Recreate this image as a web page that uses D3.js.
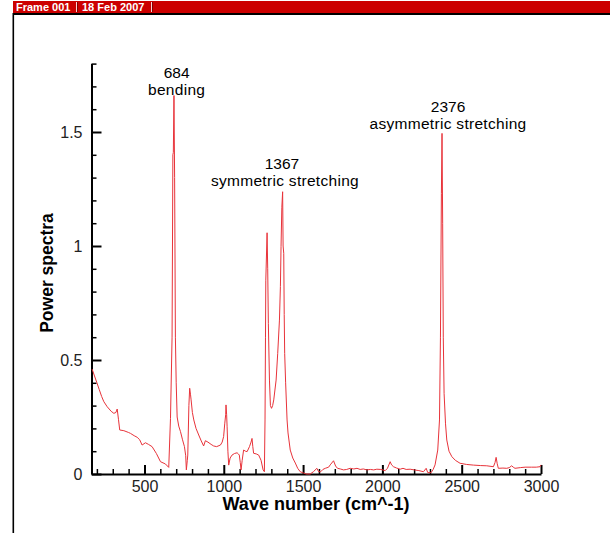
<!DOCTYPE html>
<html>
<head>
  <meta charset="utf-8">
  <script src="https://d3js.org/d3.v7.min.js"></script>
  <style>
    body { margin: 0; background: #fff; }
    svg { display: block; font-family: "Liberation Sans", Arial, sans-serif; }
    .tick text { font-size: 16px; fill: #222; }
    .axis-title { font-size: 18px; font-weight: 700; fill: #000; }
    .peak-label { font-size: 15.5px; fill: #000; text-anchor: middle; }
  </style>
</head>
<body>
  <svg id="chart" width="610" height="533"></svg>
  <script>
    // wave number (cm^-1) and power spectra
    const waveNumber = [
      170, 185, 200, 215, 230, 244, 265, 290, 307, 320, 328, 336, 344, 370, 400, 412, 435, 454, 470, 485,
      506, 525, 548, 575, 601, 632, 653, 664, 674, 679, 682, 686, 690, 695, 700, 706, 716, 727, 740, 752,
      760, 764, 770, 773, 780, 785, 790, 794, 802, 811, 825, 842, 858, 873, 884, 900, 920, 936, 955, 979,
      990, 999, 1006, 1012, 1014, 1018, 1021, 1026, 1031, 1040, 1052, 1068, 1084, 1092, 1098, 1104, 1109, 1116, 1125, 1137,
      1147, 1162, 1172, 1178, 1183, 1188, 1205, 1220, 1235, 1248, 1256, 1260, 1263, 1265, 1273, 1277, 1281, 1288, 1294, 1301,
      1308, 1315, 1330, 1340, 1351, 1357, 1361, 1366, 1371, 1374, 1378, 1381, 1384, 1390, 1399, 1405, 1419, 1435, 1451, 1466,
      1482, 1500, 1520, 1545, 1565, 1587, 1598, 1611, 1625, 1640, 1661, 1671, 1692, 1705, 1717, 1735, 1755, 1775, 1797, 1820,
      1840, 1860, 1880, 1902, 1925, 1945, 1965, 1990, 2018, 2032, 2049, 2058, 2070, 2090, 2112, 2130, 2150, 2175, 2200, 2230,
      2259, 2276, 2286, 2307, 2320, 2332, 2349, 2360, 2366, 2372, 2376, 2380, 2384, 2389, 2398, 2406, 2420, 2438, 2460, 2490,
      2530, 2574, 2620, 2658, 2700, 2710, 2717, 2724, 2731, 2760, 2784, 2800, 2815, 2825, 2836, 2870, 2900, 2940, 2970, 2994,
      3000
    ];
    const power = [
      0.46, 0.43, 0.40, 0.37, 0.34, 0.317, 0.295, 0.275, 0.266, 0.27, 0.285, 0.24, 0.193, 0.19, 0.182, 0.178, 0.168, 0.161, 0.15, 0.127,
      0.137, 0.13, 0.12, 0.09, 0.054, 0.044, 0.029, 0.244, 0.6, 1.40, 1.41, 1.66, 1.30, 0.6, 0.40, 0.25, 0.21, 0.186, 0.15, 0.12,
      0.08, 0.018, 0.06, 0.083, 0.30, 0.376, 0.35, 0.325, 0.27, 0.237, 0.20, 0.171, 0.145, 0.123, 0.146, 0.14, 0.13, 0.123, 0.12, 0.127,
      0.14, 0.164, 0.22, 0.26, 0.303, 0.26, 0.207, 0.10, 0.039, 0.07, 0.083, 0.09, 0.093, 0.088, 0.083, 0.05, 0.018, 0.06, 0.105, 0.10,
      0.098, 0.12, 0.14, 0.156, 0.12, 0.091, 0.088, 0.083, 0.06, 0.018, 0.01, 0.237, 0.60, 0.85, 1.058, 0.90, 0.661, 0.412, 0.30, 0.288,
      0.30, 0.325, 0.412, 0.529, 0.675, 0.822, 0.997, 1.17, 1.238, 1.0, 0.968, 0.70, 0.529, 0.40, 0.237, 0.18, 0.105, 0.07, 0.048, 0.025,
      0.01, 0.005, 0.0, 0.0, 0.01, 0.025, 0.01, 0.01, 0.02, 0.025, 0.03, 0.04, 0.058, 0.035, 0.025, 0.022, 0.018, 0.02, 0.025, 0.022,
      0.025, 0.02, 0.022, 0.018, 0.02, 0.018, 0.021, 0.02, 0.015, 0.025, 0.054, 0.04, 0.032, 0.026, 0.021, 0.025, 0.02, 0.021, 0.018, 0.015,
      0.01, 0.025, 0.006, 0.006, 0.02, 0.04, 0.105, 0.237, 0.60, 1.231, 1.494, 1.10, 0.60, 0.354, 0.22, 0.149, 0.10, 0.076, 0.06, 0.047,
      0.042, 0.039, 0.037, 0.036, 0.032, 0.05, 0.073, 0.045, 0.025, 0.026, 0.025, 0.028, 0.036, 0.03, 0.025, 0.028, 0.03, 0.03, 0.03, 0.032,
      0.04
    ];

    // peak annotations
    const peakWave = [684, 1367, 2376];
    const peakName = ["bending", "symmetric stretching", "asymmetric stretching"];

    const xMajorTicks = [500, 1000, 1500, 2000, 2500, 3000];
    const yMajorTicks = [0, 0.5, 1, 1.5];

    const headerTexts = ["Frame 001", "18 Feb 2007"];

    const svg = d3.select("#chart");

    // frame header bar
    svg.append("rect").attr("x", 13).attr("y", 1).attr("width", 597).attr("height", 12).attr("fill", "#cc0000");
    svg.append("rect").attr("x", 13).attr("y", 13).attr("width", 597).attr("height", 2).attr("fill", "#000");
    svg.append("rect").attr("x", 12.5).attr("y", 13).attr("width", 1.6).attr("height", 520).attr("fill", "#000");

    const headerX = [16, 82];
    headerTexts.forEach((t, i) => {
      svg.append("text")
        .attr("x", headerX[i]).attr("y", 11)
        .attr("fill", "#fff")
        .style("font-size", "11px").style("font-weight", 700)
        .text(t);
    });
    [76.5, 151.5].forEach(sx => {
      svg.append("line").attr("x1", sx).attr("x2", sx).attr("y1", 2).attr("y2", 12)
        .attr("stroke", "#ffd0d0").attr("stroke-width", 1);
      svg.append("line").attr("x1", sx + 1).attr("x2", sx + 1).attr("y1", 2).attr("y2", 12)
        .attr("stroke", "#800000").attr("stroke-width", 1);
    });

    // scales
    const x = d3.scaleLinear().domain([166, 3000]).range([91.5, 541]);
    const y = d3.scaleLinear().domain([0, 1.8]).range([474, 63.6]);

    const plot = svg.append("g");

    // minor ticks
    const xMinor = d3.range(200, 3001, 100).filter(v => !xMajorTicks.includes(v));
    const yMinor = d3.range(1, 19).map(v => v / 10).filter(v => !yMajorTicks.includes(v));

    plot.append("g")
      .attr("transform", "translate(0,474)")
      .call(d3.axisBottom(x).tickValues(xMinor).tickSize(-5).tickFormat(""))
      .call(g => g.select(".domain").remove())
      .call(g => g.selectAll("line").attr("stroke-width", 1.5));

    plot.append("g")
      .attr("transform", "translate(91.5,0)")
      .call(d3.axisLeft(y).tickValues(yMinor).tickSize(-5).tickFormat(""))
      .call(g => g.select(".domain").remove())
      .call(g => g.selectAll("line").attr("stroke-width", 1.5));

    // major axes
    plot.append("g")
      .attr("transform", "translate(0,474)")
      .call(d3.axisBottom(x).tickValues(xMajorTicks).tickSize(-9).tickSizeOuter(0).tickPadding(7).tickFormat(d => d))
      .call(g => g.select(".domain").attr("stroke-width", 2))
      .call(g => g.selectAll("line").attr("stroke-width", 2))
      .call(g => g.selectAll("text").attr("font-family", null).attr("font-size", null));

    plot.append("g")
      .attr("transform", "translate(91.5,0)")
      .call(d3.axisLeft(y).tickValues(yMajorTicks).tickSize(-10).tickSizeOuter(0).tickPadding(9).tickFormat(d => d))
      .call(g => g.select(".domain").attr("stroke-width", 2))
      .call(g => g.selectAll("line").attr("stroke-width", 2))
      .call(g => g.selectAll("text").attr("font-family", null).attr("font-size", null));

    // spectrum line
    const points = waveNumber.map((w, i) => [w, power[i]]);
    const line = d3.line().x(d => x(d[0])).y(d => y(d[1]));

    plot.append("path")
      .datum(points)
      .attr("d", line)
      .attr("fill", "none")
      .attr("stroke", "#e8333a")
      .attr("stroke-width", 1);

    // peak labels (number on top, mode name below)
    const labelDx = [3, 0, 6];
    const labelTop = [78, 169, 112];
    peakWave.forEach((w, i) => {
      const lx = x(w) + labelDx[i];
      plot.append("text").attr("class", "peak-label")
        .attr("x", lx).attr("y", labelTop[i]).text(w);
      plot.append("text").attr("class", "peak-label")
        .attr("x", lx + (i == 1 ? 3 : 0)).attr("y", labelTop[i] + 17)
        .style("letter-spacing", "0.3px")
        .text(peakName[i]);
    });

    // axis titles
    svg.append("text").attr("class", "axis-title")
      .attr("x", 316).attr("y", 510)
      .attr("text-anchor", "middle")
      .text("Wave number (cm^-1)");

    svg.append("text").attr("class", "axis-title")
      .attr("transform", "translate(53,273) rotate(-90)")
      .attr("text-anchor", "middle")
      .style("font-size", "17.5px")
      .text("Power spectra");
  </script>
</body>
</html>
